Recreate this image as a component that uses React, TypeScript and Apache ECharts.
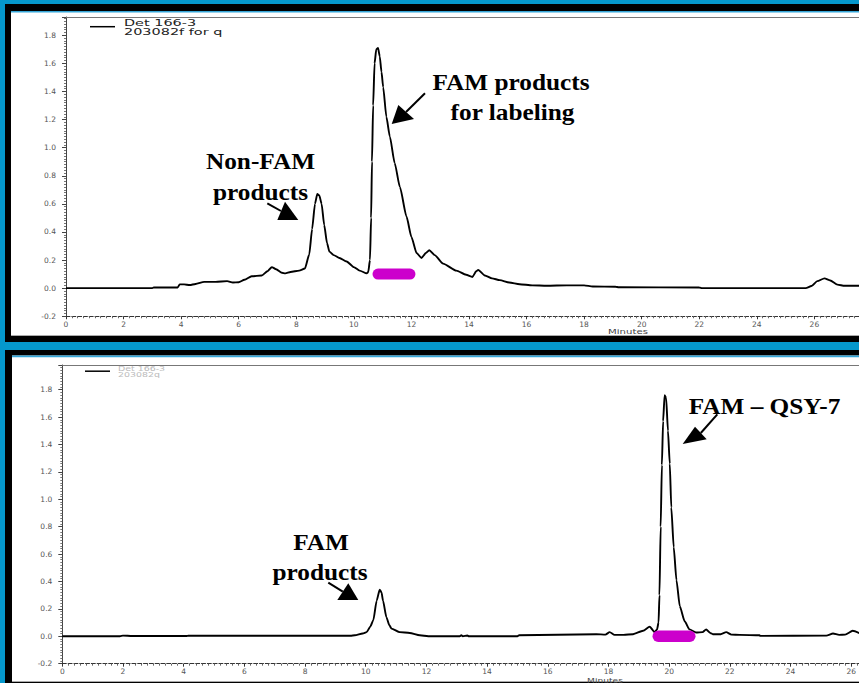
import React, { useEffect, useRef } from "react";
import * as echarts from "echarts";

// ---------- data (minutes, absorbance) ----------
const TOP_TRACE: [number, number][] = [
  [0, 0], [3.0, 0], [3.05, 0.005], [3.88, 0.005], [3.95, 0.027], [4.1, 0.027], [4.3, 0.022], [4.5, 0.03],
  [4.8, 0.045], [5.2, 0.045], [5.6, 0.05], [5.8, 0.04], [6.0, 0.042], [6.2, 0.06], [6.45, 0.085],
  [6.8, 0.09], [7.0, 0.12], [7.15, 0.15], [7.3, 0.135], [7.5, 0.11], [7.62, 0.105], [7.8, 0.115],
  [8.1, 0.125], [8.3, 0.14], [8.45, 0.24], [8.55, 0.42], [8.65, 0.6], [8.73, 0.67], [8.8, 0.66],
  [8.88, 0.6], [8.97, 0.45], [9.07, 0.32], [9.15, 0.26], [9.3, 0.235], [9.5, 0.215], [9.75, 0.19],
  [10.0, 0.15], [10.2, 0.125], [10.45, 0.105], [10.5, 0.115], [10.56, 0.2], [10.6, 0.5], [10.63, 0.9],
  [10.67, 1.3], [10.72, 1.6], [10.78, 1.7], [10.84, 1.71], [10.9, 1.65], [10.96, 1.54], [11.02, 1.43],
  [11.13, 1.22], [11.25, 1.08], [11.42, 0.89], [11.6, 0.72], [11.83, 0.51], [12.0, 0.365], [12.18, 0.25],
  [12.35, 0.215], [12.5, 0.25], [12.62, 0.27], [12.81, 0.235], [13.1, 0.175], [13.56, 0.125],
  [13.9, 0.095], [14.12, 0.08], [14.25, 0.12], [14.32, 0.13], [14.55, 0.09], [14.8, 0.07],
  [15.07, 0.057], [15.4, 0.04], [15.76, 0.028], [16.2, 0.02], [16.7, 0.017], [17.4, 0.02],
  [18.0, 0.02], [18.3, 0.012], [19.1, 0.01], [19.2, 0.006], [22.0, 0.005], [22.1, 0.0], [25.7, 0.0],
  [25.9, 0.015], [26.1, 0.05], [26.35, 0.07], [26.55, 0.055], [26.8, 0.025], [27.05, 0.017], [27.6, 0.017],
];

const BOTTOM_TRACE: [number, number][] = [
  [0, 0], [1.9, 0], [2.0, 0.005], [2.3, 0.002], [4.1, 0.002], [4.15, 0.004], [9.5, 0.004],
  [9.64, 0.007], [9.9, 0.02], [10.03, 0.03], [10.15, 0.07], [10.25, 0.117], [10.36, 0.26],
  [10.46, 0.34], [10.52, 0.32], [10.57, 0.26], [10.68, 0.14], [10.78, 0.08], [10.85, 0.056],
  [11.12, 0.03], [11.45, 0.024], [11.78, 0.007], [12.06, 0.0], [13.1, 0.0], [13.15, 0.008],
  [13.2, 0], [13.35, 0.006], [13.4, 0], [15.0, 0.0], [15.05, 0.007], [17.6, 0.015], [17.9, 0.012],
  [18.04, 0.03], [18.2, 0.01], [18.5, 0.01], [18.81, 0.015], [19.14, 0.04], [19.36, 0.07],
  [19.52, 0.03], [19.6, 0.05], [19.65, 0.1], [19.68, 0.3], [19.72, 0.8], [19.76, 1.25], [19.8, 1.57],
  [19.85, 1.76], [19.9, 1.74], [19.96, 1.5], [20.02, 1.26], [20.07, 0.94], [20.15, 0.65],
  [20.24, 0.41], [20.35, 0.22], [20.51, 0.11], [20.67, 0.05], [20.89, 0.027], [21.1, 0.03],
  [21.22, 0.05], [21.35, 0.025], [21.44, 0.015], [21.7, 0.015], [21.88, 0.03], [22.05, 0.012],
  [22.32, 0.01], [22.98, 0.007], [23.0, 0.003], [25.18, 0.005], [25.4, 0.02], [25.6, 0.01],
  [25.8, 0.012], [26.05, 0.04], [26.3, 0.02],
];

const TOP_FRACTION: [number, number][] = [[10.84, 0.1], [11.95, 0.1]];
const BOTTOM_FRACTION: [number, number][] = [[19.64, 0.0], [20.68, 0.0]];

const X_MIN = 0;
const X_STEP = 2;
const TOP_X_MAX = 27.55; // the window cuts the run off here
const BOTTOM_X_MAX = 26.25;
const Y_MIN = -0.2;
const Y_STEP = 0.2;
const TOP_Y_MAX = 1.93;
const BOTTOM_Y_MAX = 1.98;

const TOP_LEGEND = ["Det 166-3", "203082f for q"];
const BOTTOM_LEGEND = ["Det 166-3", "203082q"];
const X_TITLE = "Minutes";

const TOP_LABELS = { peak1: ["Non-FAM", "products"], peak2: ["FAM products", "for labeling"] };
const BOTTOM_LABELS = { peak1: ["FAM", "products"], peak2: ["FAM \u2013 QSY-7"] };

// ---------- styling ----------
const BLUE = "#0598CC";
const MAGENTA = "#CC00CC";
const LABEL_FONT = "DejaVu Sans";
const SERIF = "Liberation Serif";

function xAxis(gridIndex: number, max: number) {
  return {
    type: "value",
    gridIndex,
    min: X_MIN,
    max,
    interval: X_STEP,
    axisLine: { show: true, onZero: false, lineStyle: { color: "#333", width: 1, type: [4, 1.8] } },
    axisTick: { show: true, length: 3, lineStyle: { color: "#333" } },
    minorTick: { show: true, splitNumber: 10, length: 2, lineStyle: { color: "#666" } },
    splitLine: { show: false },
    minorSplitLine: { show: false },
    axisLabel: {
      fontFamily: LABEL_FONT,
      fontSize: 7.5,
      color: "#555",
      margin: 4,
      showMaxLabel: false,
      formatter: (v: number) => String(v),
    },
  };
}

function frameAxis(gridIndex: number, max: number) {
  return {
    type: "value",
    gridIndex,
    position: "top",
    min: X_MIN,
    max,
    axisLine: { show: true, onZero: false, lineStyle: { color: "#777", width: 1 } },
    axisTick: { show: false },
    axisLabel: { show: false },
    splitLine: { show: false },
  };
}

function yAxis(gridIndex: number, max: number) {
  return {
    type: "value",
    gridIndex,
    min: Y_MIN,
    max,
    interval: Y_STEP,
    axisLine: { show: true, onZero: false, lineStyle: { color: "#444", width: 1 } },
    axisTick: { show: true, length: 4, lineStyle: { color: "#444" } },
    minorTick: { show: true, splitNumber: 10, length: 2, lineStyle: { color: "#777" } },
    splitLine: { show: false },
    axisLabel: {
      fontFamily: LABEL_FONT,
      fontSize: 7.5,
      color: "#555",
      margin: 10,
      showMaxLabel: false,
      formatter: (v: number) => v.toFixed(1),
    },
  };
}

function annotation(text: string, x: number, y: number) {
  return {
    type: "text",
    x,
    y,
    scaleX: 1.1,
    z: 100,
    style: {
      text,
      fontFamily: SERIF,
      fontWeight: "bold",
      fontSize: 23,
      fill: "#000",
      align: "center",
      verticalAlign: "middle",
    },
  };
}

function arrow(shaft: number[][], head: number[][]) {
  return [
    { type: "polyline", z: 100, shape: { points: shaft }, style: { stroke: "#000", lineWidth: 2, fill: null } },
    { type: "polygon", z: 100, shape: { points: head }, style: { fill: "#000" } },
  ];
}

function smallText(text: string, x: number, y: number, size: number, scaleX: number, color: string, align = "left") {
  return {
    type: "text",
    x,
    y,
    scaleX,
    z: 100,
    style: { text, fontFamily: LABEL_FONT, fontSize: size, fill: color, align, verticalAlign: "middle" },
  };
}

function buildOption() {
  const W = 900;
  const graphic: any[] = [
    // top panel frame
    { type: "rect", z: -10, shape: { x: 5, y: 4, width: W, height: 338 }, style: { fill: "#000" } },
    { type: "rect", z: -9, shape: { x: 11, y: 11, width: W, height: 325 }, style: { fill: "#fff" } },
    { type: "rect", z: -8, shape: { x: 11, y: 11, width: W, height: 1.5 }, style: { fill: "#35a6d8" } },
    { type: "rect", z: -8, shape: { x: 11, y: 335, width: W, height: 1 }, style: { fill: "#aaa" } },
    // bottom panel frame
    { type: "rect", z: -10, shape: { x: 5, y: 350, width: W, height: 340 }, style: { fill: "#000" } },
    { type: "rect", z: -9, shape: { x: 12, y: 355.5, width: W, height: 326 }, style: { fill: "#fff" } },
    { type: "rect", z: -8, shape: { x: 12, y: 355.5, width: W, height: 1.8 }, style: { fill: "#35a6d8" } },
    { type: "rect", z: -8, shape: { x: 12, y: 681, width: W, height: 1 }, style: { fill: "#aaa" } },

    // legends
    { type: "line", z: 100, shape: { x1: 90, y1: 26.7, x2: 115, y2: 26.7 }, style: { stroke: "#000", lineWidth: 1.5 } },
    smallText(TOP_LEGEND[0], 124, 22.7, 8.5, 1.7, "#222"),
    smallText(TOP_LEGEND[1], 124, 31.7, 8.5, 1.7, "#222"),
    { type: "line", z: 100, shape: { x1: 85, y1: 371.2, x2: 110, y2: 371.2 }, style: { stroke: "#000", lineWidth: 1.5 } },
    smallText(BOTTOM_LEGEND[0], 118, 368.6, 6.5, 1.45, "#bbb"),
    smallText(BOTTOM_LEGEND[1], 118, 374.6, 6.5, 1.45, "#bbb"),

    // axis titles
    smallText(X_TITLE, 628, 332, 7, 1.45, "#444", "center"),
    smallText(X_TITLE, 605, 680, 7, 1.3, "#444", "center"),

    // annotations
    annotation(TOP_LABELS.peak1[0], 260.5, 160.8),
    annotation(TOP_LABELS.peak1[1], 260.5, 192.2),
    annotation(TOP_LABELS.peak2[0], 511, 81.5),
    annotation(TOP_LABELS.peak2[1], 512.5, 112.2),
    annotation(BOTTOM_LABELS.peak1[0], 321, 542),
    annotation(BOTTOM_LABELS.peak1[1], 320, 572),
    annotation(BOTTOM_LABELS.peak2[0], 764.5, 405.5),
    ...arrow([[267.3, 203.3], [281, 211]], [[298.3, 220], [277.3, 220], [285, 201.7]]),
    ...arrow([[425, 93.3], [406, 112]], [[391.7, 124], [398.3, 105], [414, 119]]),
    ...arrow([[328.3, 582.7], [342.8, 591.7]], [[358.3, 600], [337.3, 600], [348.3, 583.3]]),
    ...arrow([[717.3, 414.3], [700.8, 433]], [[682.7, 444], [695, 426.7], [706.7, 439.3]]),
  ];

  const topPxPerMin = 28.8;
  const topPxPerAU = 140.5;
  const botPxPerMin = 30.36;
  const botPxPerAU = 137;

  return {
    animation: false,
    backgroundColor: BLUE,
    grid: [
      {
        left: 66,
        top: 17,
        width: (TOP_X_MAX - X_MIN) * topPxPerMin,
        height: (TOP_Y_MAX - Y_MIN) * topPxPerAU,
        containLabel: false,
      },
      {
        left: 62.3,
        top: 365,
        width: (BOTTOM_X_MAX - X_MIN) * botPxPerMin,
        height: (BOTTOM_Y_MAX - Y_MIN) * botPxPerAU,
        containLabel: false,
      },
    ],
    xAxis: [xAxis(0, TOP_X_MAX), xAxis(1, BOTTOM_X_MAX), frameAxis(0, TOP_X_MAX), frameAxis(1, BOTTOM_X_MAX)],
    yAxis: [yAxis(0, TOP_Y_MAX), yAxis(1, BOTTOM_Y_MAX)],
    series: [
      {
        type: "line",
        name: "top",
        xAxisIndex: 0,
        yAxisIndex: 0,
        data: TOP_TRACE,
        symbol: "none",
        smooth: 0.2,
        smoothMonotone: "x",
        lineStyle: { color: "#000", width: 1.9 },
        z: 3,
      },
      {
        type: "line",
        name: "top-fraction",
        xAxisIndex: 0,
        yAxisIndex: 0,
        data: TOP_FRACTION,
        symbol: "none",
        lineStyle: { color: MAGENTA, width: 11, cap: "round" },
        z: 5,
      },
      {
        type: "line",
        name: "bottom",
        xAxisIndex: 1,
        yAxisIndex: 1,
        data: BOTTOM_TRACE,
        symbol: "none",
        smooth: 0.2,
        smoothMonotone: "x",
        lineStyle: { color: "#000", width: 1.9 },
        z: 3,
      },
      {
        type: "line",
        name: "bottom-fraction",
        xAxisIndex: 1,
        yAxisIndex: 1,
        data: BOTTOM_FRACTION,
        symbol: "none",
        lineStyle: { color: MAGENTA, width: 11.5, cap: "round" },
        z: 5,
      },
    ],
    graphic,
  };
}

export default function App() {
  const ref = useRef<HTMLDivElement>(null);
  useEffect(() => {
    if (!ref.current) return;
    const chart = echarts.init(ref.current, null, { renderer: "svg" });
    chart.setOption(buildOption() as any);
    return () => chart.dispose();
  }, []);
  return (
    <div
      style={{
        position: "fixed",
        left: 0,
        top: 0,
        width: 859,
        height: 683,
        overflow: "hidden",
        background: BLUE,
      }}
    >
      <div ref={ref} style={{ width: 859, height: 683 }} />
    </div>
  );
}
